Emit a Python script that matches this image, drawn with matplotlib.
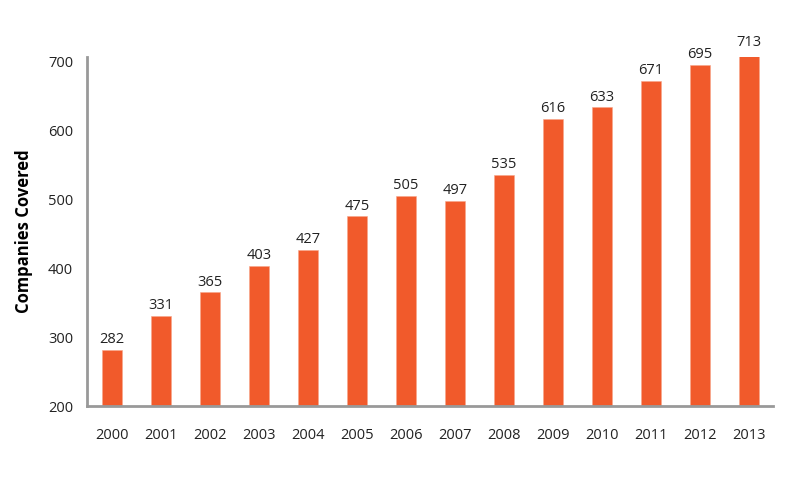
import matplotlib
matplotlib.use('Agg')
import matplotlib.pyplot as plt

plt.rcParams['font.family'] = ['Open Sans', 'DejaVu Sans']

years = ['2000', '2001', '2002', '2003', '2004', '2005', '2006',
         '2007', '2008', '2009', '2010', '2011', '2012', '2013']
companies = [282, 331, 365, 403, 427, 475, 505, 497, 535, 616, 633, 671, 695, 713]
yticks = [200, 300, 400, 500, 600, 700]

fig = plt.figure(figsize=(7.86, 4.84), dpi=100)
ax = fig.add_axes([0.1107, 0.161, 0.8728, 0.721])

x = range(len(years))
ax.bar(x, companies, width=0.41, color='#F15A2B', edgecolor='#F7A58A', linewidth=0.4)

# value labels above each bar
for xi, v in zip(x, companies):
    ax.text(xi, v + 4, str(v), ha='center', va='bottom', fontsize=10.5, color='#222222')

ax.set_xlim(-0.51, 13.49)
ax.set_ylim(200, 706)
ax.set_xticks(list(x))
ax.set_xticklabels(years)
ax.set_yticks(yticks)
ax.tick_params(axis='both', length=0, labelsize=10.5, colors='#222222')
ax.tick_params(axis='x', pad=16)
ax.tick_params(axis='y', pad=10)

for side in ['top', 'right']:
    ax.spines[side].set_visible(False)
for side in ['left', 'bottom']:
    ax.spines[side].set_color('#999999')
    ax.spines[side].set_linewidth(2)

ax.set_ylabel('Companies Covered', fontsize=12, fontweight='bold', labelpad=11)

fig.savefig('out.png', dpi=100)
